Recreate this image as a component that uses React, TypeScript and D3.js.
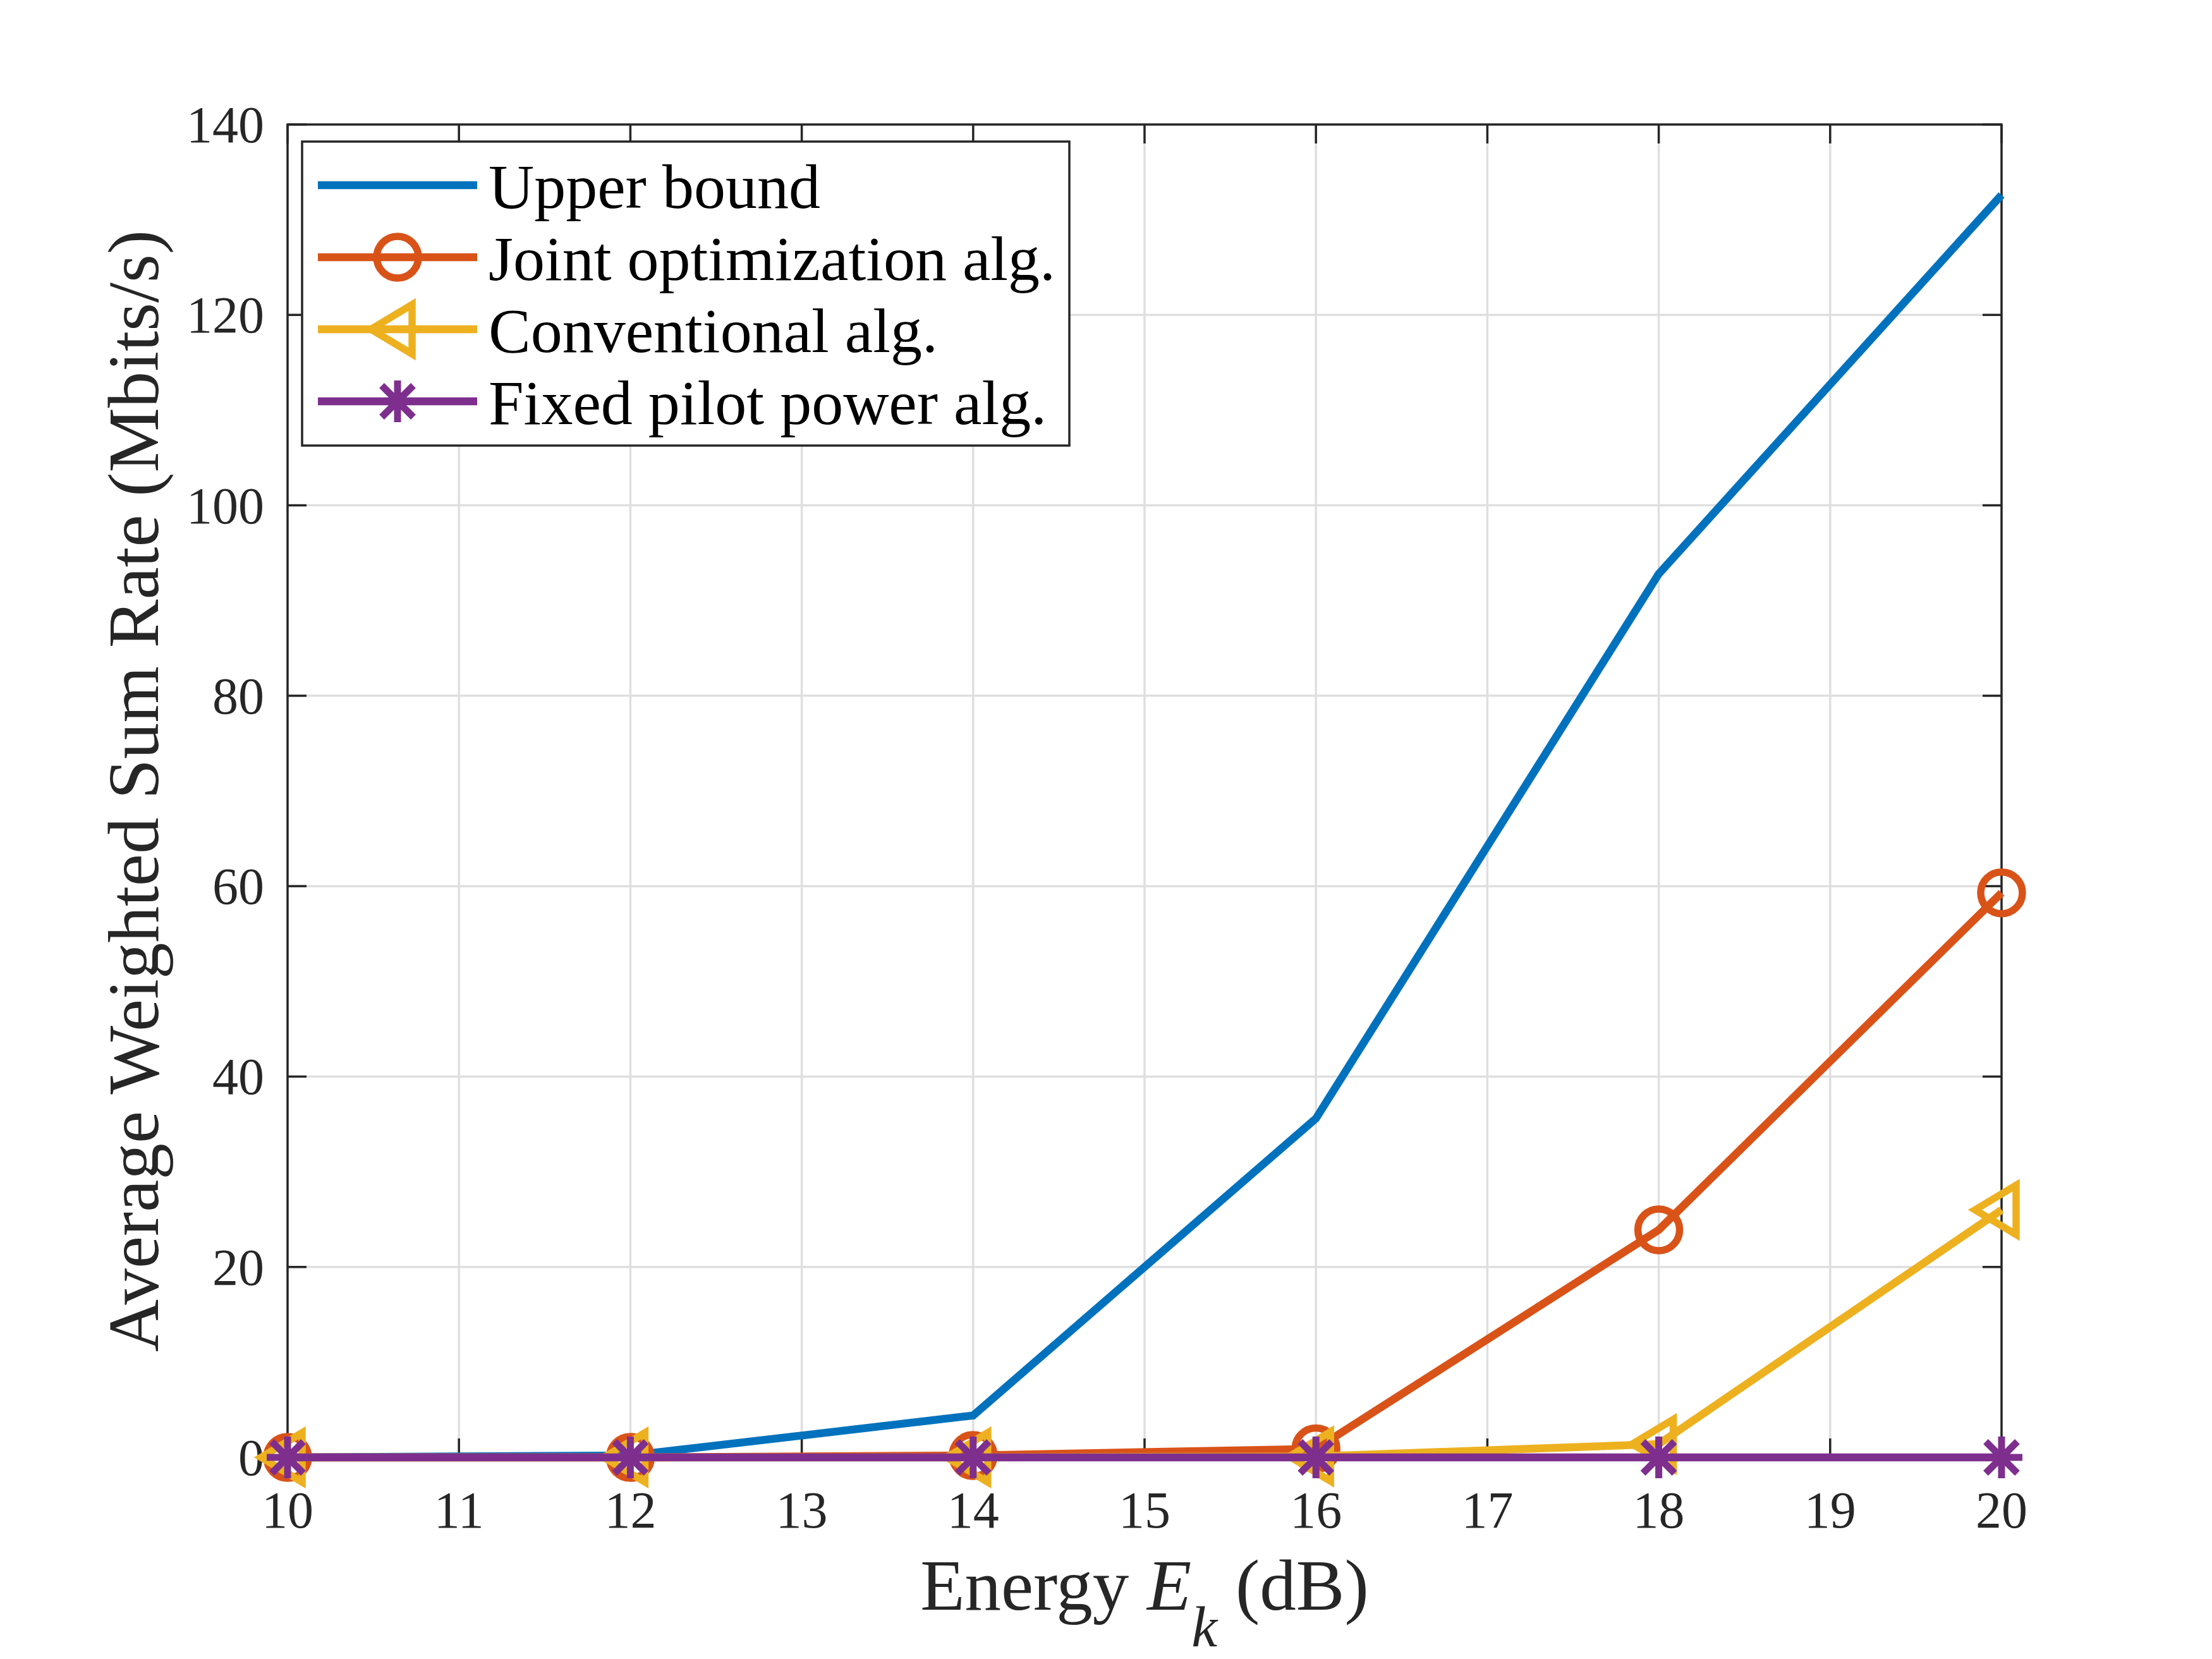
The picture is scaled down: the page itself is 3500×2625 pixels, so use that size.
import React from "react";
import * as d3 from "d3";

const energyDb = [10, 12, 14, 16, 18, 20];
const upperBound = [0, 0.2, 4.4, 35.6, 92.8, 132.6];
const jointOpt = [0, 0, 0.2, 0.9, 23.9, 59.3];
const conventional = [0, 0, 0, 0.1, 1.4, 26.0];
const fixedPilot = [0, 0, 0, 0, 0, 0];

const xTicks = [10, 11, 12, 13, 14, 15, 16, 17, 18, 19, 20];
const yTicks = [0, 20, 40, 60, 80, 100, 120, 140];

const seriesNames = [
  "Upper bound",
  "Joint optimization alg.",
  "Conventional alg.",
  "Fixed pilot power alg.",
];
const seriesColors = ["#0072BD", "#D95319", "#EDB120", "#7E2F8E"];
const seriesMarkers = ["none", "circle", "triangle-left", "asterisk"];

const W = 3500;
const H = 2625;
const M = { left: 455, right: 3167, top: 197, bottom: 2306 };
const AX = "#262626";
const GRID = "#dfdfdf";
const FONT = "'Liberation Serif', 'Times New Roman', Times, serif";
const LW = 12.5;

function Marker({ type, x, y, color }: { type: string; x: number; y: number; color: string }) {
  if (type === "circle") {
    return <circle cx={x} cy={y} r={33} fill="none" stroke={color} strokeWidth={11.5} />;
  }
  if (type === "triangle-left") {
    const p = `M${x - 42},${y} L${x + 23},${y - 39} L${x + 23},${y + 39} Z`;
    return <path d={p} fill="none" stroke={color} strokeWidth={11.5} strokeLinejoin="miter" strokeMiterlimit={10} />;
  }
  if (type === "asterisk") {
    const r = 33;
    const d = 25;
    const p = `M${x},${y - r} L${x},${y + r} M${x - r},${y} L${x + r},${y} M${x - d},${y - d} L${x + d},${y + d} M${x - d},${y + d} L${x + d},${y - d}`;
    return <path d={p} fill="none" stroke={color} strokeWidth={11} />;
  }
  return null;
}

export default function App() {
  const x = d3.scaleLinear().domain([10, 20]).range([M.left, M.right]);
  const y = d3.scaleLinear().domain([0, 140]).range([M.bottom, M.top]);
  const allSeries = [upperBound, jointOpt, conventional, fixedPilot];
  const line = d3
    .line<number>()
    .x((_, i) => x(energyDb[i]))
    .y((v) => y(v));

  const tickLen = 30;
  const axW = 3.5;

  // legend geometry
  const lg = { x0: 478, y0: 224, x1: 1692, y1: 705 };
  const rowY = [293, 407, 521, 635];

  return (
    <svg
      width={W}
      height={H}
      viewBox={`0 0 ${W} ${H}`}
      style={{ position: "absolute", left: 0, top: 0, background: "#fff" }}
      fontFamily={FONT}
    >
      <rect x={0} y={0} width={W} height={H} fill="#fff" />
      {/* grid */}
      {xTicks.map((t) => (
        <line key={"gx" + t} x1={x(t)} x2={x(t)} y1={M.top} y2={M.bottom} stroke={GRID} strokeWidth={3.5} />
      ))}
      {yTicks.map((t) => (
        <line key={"gy" + t} x1={M.left} x2={M.right} y1={y(t)} y2={y(t)} stroke={GRID} strokeWidth={3.5} />
      ))}
      {/* ticks */}
      {xTicks.map((t) => (
        <g key={"tx" + t} stroke={AX} strokeWidth={axW}>
          <line x1={x(t)} x2={x(t)} y1={M.bottom} y2={M.bottom - tickLen} />
          <line x1={x(t)} x2={x(t)} y1={M.top} y2={M.top + tickLen} />
        </g>
      ))}
      {yTicks.map((t) => (
        <g key={"ty" + t} stroke={AX} strokeWidth={axW}>
          <line x1={M.left} x2={M.left + tickLen} y1={y(t)} y2={y(t)} />
          <line x1={M.right} x2={M.right - tickLen} y1={y(t)} y2={y(t)} />
        </g>
      ))}
      {/* box */}
      <rect
        x={M.left}
        y={M.top}
        width={M.right - M.left}
        height={M.bottom - M.top}
        fill="none"
        stroke={AX}
        strokeWidth={axW}
      />
      {/* tick labels */}
      {xTicks.map((t) => (
        <text key={"lx" + t} x={x(t)} y={2417} textAnchor="middle" fontSize={82} fill={AX}>
          {t}
        </text>
      ))}
      {yTicks.map((t) => (
        <text key={"ly" + t} x={418} y={y(t) + 28} textAnchor="end" fontSize={82} fill={AX}>
          {t}
        </text>
      ))}
      {/* axis labels */}
      <text x={(M.left + M.right) / 2} y={2547} textAnchor="middle" fontSize={115} fill={AX}>
        <tspan>Energy </tspan>
        <tspan fontStyle="italic">E</tspan>
        <tspan fontStyle="italic" fontSize={92} dy={58}>k</tspan>
        <tspan dy={-58}> (dB)</tspan>
      </text>
      <text
        transform={`translate(250, ${(M.top + M.bottom) / 2}) rotate(-90)`}
        x={0}
        y={0}
        textAnchor="middle"
        fontSize={115}
        fill={AX}
      >
        Average Weighted Sum Rate (Mbits/s)
      </text>
      {/* data */}
      {allSeries.map((vals, si) => (
        <g key={"s" + si}>
          <path d={line(vals) || ""} fill="none" stroke={seriesColors[si]} strokeWidth={LW} strokeLinejoin="miter" />
          {vals.map((v, i) => (
            <Marker key={i} type={seriesMarkers[si]} x={x(energyDb[i])} y={y(v)} color={seriesColors[si]} />
          ))}
        </g>
      ))}
      {/* legend */}
      <rect
        x={lg.x0}
        y={lg.y0}
        width={lg.x1 - lg.x0}
        height={lg.y1 - lg.y0}
        fill="#fff"
        stroke={AX}
        strokeWidth={axW}
      />
      {seriesNames.map((name, i) => (
        <g key={"lg" + i}>
          <line x1={503} x2={755} y1={rowY[i]} y2={rowY[i]} stroke={seriesColors[i]} strokeWidth={LW} />
          <Marker type={seriesMarkers[i]} x={629} y={rowY[i]} color={seriesColors[i]} />
          <text x={773} y={rowY[i] + 36} fontSize={100} fill="#000">
            {name}
          </text>
        </g>
      ))}
    </svg>
  );
}
